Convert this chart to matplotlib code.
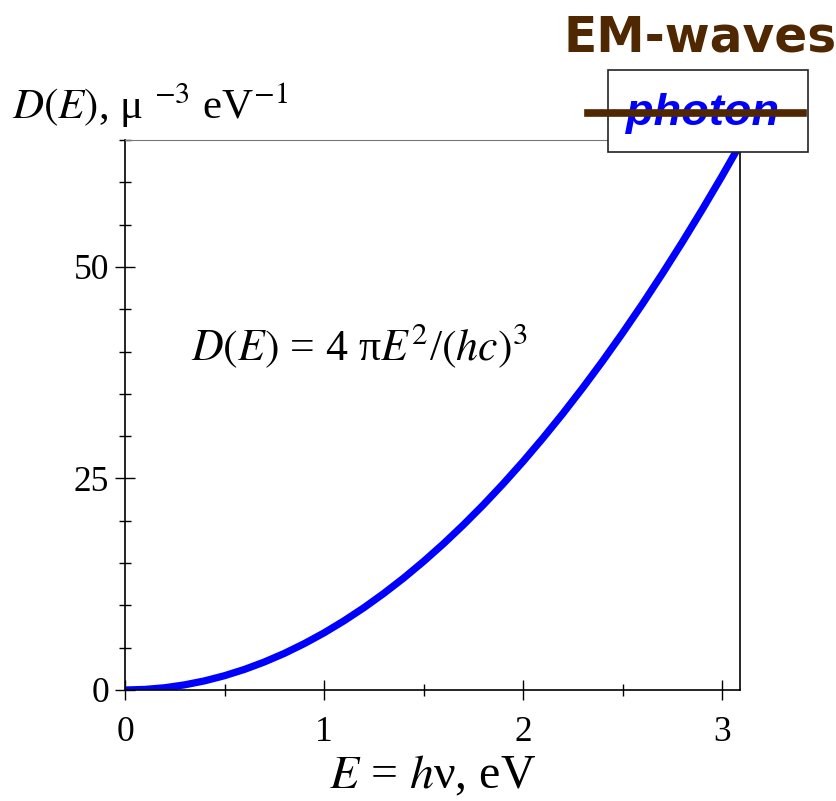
import matplotlib
matplotlib.use("Agg")
import matplotlib.pyplot as plt
from matplotlib.patches import Rectangle
from matplotlib.lines import Line2D
from matplotlib.ticker import MultipleLocator

plt.rcParams['font.family'] = ['Liberation Serif', 'DejaVu Serif']
plt.rcParams['mathtext.fontset'] = 'stix'

# photon density of states D(E) = 4*pi*E^2/(hc)^3, in um^-3 eV^-1
energy_ev = [0.0, 0.1, 0.2, 0.3, 0.4, 0.5, 0.6, 0.7, 0.8, 0.9, 1.0,
             1.1, 1.2, 1.3, 1.4, 1.5, 1.6, 1.7, 1.8, 1.9, 2.0,
             2.1, 2.2, 2.3, 2.4, 2.5, 2.6, 2.7, 2.8, 2.9, 3.0, 3.1]
dos = [0.0, 0.07, 0.27, 0.61, 1.08, 1.69, 2.43, 3.31, 4.32, 5.47, 6.75,
       8.17, 9.72, 11.41, 13.23, 15.19, 17.28, 19.51, 21.87, 24.37, 27.0,
       29.77, 32.67, 35.71, 38.88, 42.19, 45.63, 49.21, 52.92, 56.77, 60.75, 64.87]

x_ticks = [0, 1, 2, 3]
y_ticks = [0, 25, 50]

brown = '#4f2700'

W, H = 836, 801
fig = plt.figure(figsize=(W / 100, H / 100), dpi=100)
ax = fig.add_axes([125 / W, 1 - 690 / H, (740 - 125) / W, (690 - 140) / H])

ax.plot(energy_ev, dos, color='#0000ff', lw=5.2, solid_capstyle='butt', clip_on=True)
ax.set_xlim(0, 3.09)
ax.set_ylim(0, 65)

ax.set_xticks(x_ticks)
ax.set_yticks(y_ticks)
ax.xaxis.set_minor_locator(MultipleLocator(0.5))
ax.yaxis.set_minor_locator(MultipleLocator(5))
ax.tick_params(which='major', direction='inout', length=15, width=1.0,
               labelsize=25.5, color='black')
ax.tick_params(which='minor', direction='inout', length=8.5, width=1.0, color='black')
ax.tick_params(axis='x', which='major', pad=11)
ax.tick_params(axis='y', which='major', pad=4)

for side in ['left', 'bottom', 'right']:
    ax.spines[side].set_linewidth(1.2)
    ax.spines[side].set_color('black')
ax.spines['top'].set_linewidth(0.8)
ax.spines['top'].set_color('#777777')

ax.set_xlabel(r'$E$ = $h$ν, eV', fontsize=34.5, labelpad=4)

fig.text(12 / W, 1 - 119 / H, r'$D(E)$, μ $^{-3}$ eV$^{-1}$', fontsize=31,
         ha='left', va='baseline')

ax.text(0.33, 39.0, r'$D(E)$ = 4 π$E^2$/$(hc)^3$', fontsize=31.5,
        ha='left', va='baseline')

# label box over the upper right corner of the plot
fig.patches.append(Rectangle((608 / W, 1 - 152 / H), 200 / W, 82 / H,
                             transform=fig.transFigure, facecolor='white',
                             edgecolor='#222222', lw=1.2, zorder=5))
fig.text(703 / W, 1 - 125 / H, 'photon', fontsize=32.5, color='#0000ff',
         family='Liberation Sans', weight='bold', style='italic',
         ha='center', va='baseline', zorder=6)
fig.lines.append(Line2D([588 / W, 803 / W], [1 - 113 / H, 1 - 113 / H],
                        transform=fig.transFigure, color=brown, lw=5.5, zorder=7))
fig.text(700 / W, 1 - 52 / H, 'EM-waves', fontsize=35, color=brown,
         family='DejaVu Sans', weight='bold', ha='center', va='baseline')

fig.savefig('out.png', dpi=100)
